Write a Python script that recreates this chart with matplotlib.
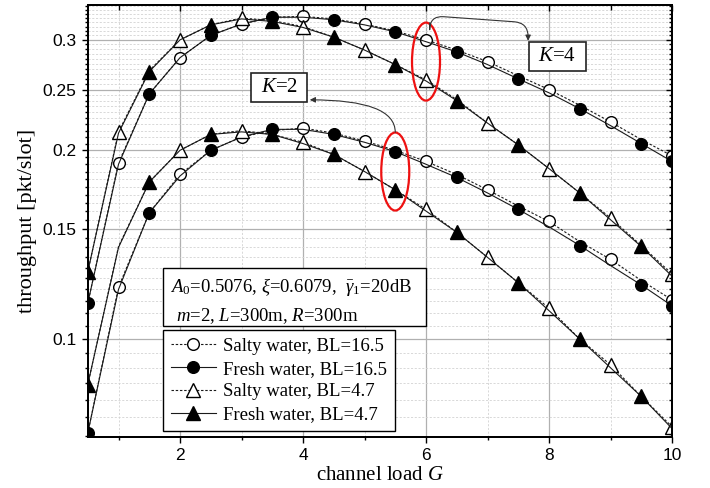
import numpy as np
import matplotlib
matplotlib.use('Agg')
import matplotlib.pyplot as plt
from matplotlib.patches import Ellipse, Rectangle
from matplotlib.ticker import FixedLocator, FuncFormatter, NullFormatter
from matplotlib.transforms import ScaledTranslation

plt.rcParams['mathtext.fontset'] = 'custom'
plt.rcParams['mathtext.rm'] = 'Liberation Serif'
plt.rcParams['mathtext.it'] = 'Liberation Serif:italic'
plt.rcParams['mathtext.bf'] = 'Liberation Serif:bold'

# ---------------- data ----------------
G = [0.5, 1.0, 1.5, 2.0, 2.5, 3.0, 3.5, 4.0, 4.5, 5.0,
     5.5, 6.0, 6.5, 7.0, 7.5, 8.0, 8.5, 9.0, 9.5, 10.0]

# K = 4
k4_salty_bl165 = [0.114, 0.191, 0.246, 0.281, 0.305, 0.318, 0.326, 0.327, 0.324, 0.318,
                  0.310, 0.300, 0.289, 0.277, 0.263, 0.250, 0.236, 0.222, 0.208, 0.196]
k4_fresh_bl165 = [0.114, 0.190, 0.246, 0.281, 0.305, 0.318, 0.326, 0.326, 0.323, 0.317,
                  0.309, 0.298, 0.287, 0.274, 0.260, 0.247, 0.233, 0.219, 0.205, 0.192]
k4_salty_bl47 = [0.128, 0.214, 0.268, 0.300, 0.317, 0.325, 0.322, 0.315, 0.303, 0.289,
                 0.274, 0.259, 0.241, 0.221, 0.204, 0.187, 0.171, 0.156, 0.141, 0.127]
k4_fresh_bl47 = [0.128, 0.213, 0.267, 0.300, 0.317, 0.324, 0.321, 0.314, 0.303, 0.289,
                 0.274, 0.258, 0.240, 0.221, 0.204, 0.187, 0.171, 0.155, 0.1405, 0.126]
# K = 2
k2_salty_bl165 = [0.0708, 0.121, 0.159, 0.183, 0.200, 0.210, 0.215, 0.217, 0.213, 0.207,
                  0.200, 0.192, 0.183, 0.173, 0.163, 0.154, 0.143, 0.134, 0.124, 0.1155]
k2_fresh_bl165 = [0.0708, 0.120, 0.159, 0.182, 0.200, 0.210, 0.216, 0.216, 0.212, 0.206,
                  0.199, 0.190, 0.181, 0.171, 0.161, 0.151, 0.141, 0.131, 0.122, 0.113]
k2_salty_bl47 = [0.0846, 0.1405, 0.178, 0.200, 0.212, 0.215, 0.212, 0.206, 0.197, 0.185,
                 0.173, 0.161, 0.148, 0.135, 0.123, 0.112, 0.100, 0.091, 0.081, 0.0725]
k2_fresh_bl47 = [0.0846, 0.140, 0.178, 0.200, 0.212, 0.214, 0.212, 0.205, 0.197, 0.185,
                 0.173, 0.160, 0.148, 0.135, 0.123, 0.111, 0.100, 0.090, 0.081, 0.072]

labels = ['Salty water, BL=16.5', 'Fresh water, BL=16.5',
          'Salty water, BL=4.7', 'Fresh water, BL=4.7']
y_major = [0.1, 0.15, 0.2, 0.25, 0.3]
x_major = [2, 4, 6, 8, 10]
x_minor = [1, 3, 5, 7, 9]

# marker index sets
int_idx = list(range(1, 20, 2))          # integer G
half_idx = list(range(0, 20, 2))         # half-integer G
half_idx_end = half_idx + [19]
int_idx_no1 = list(range(3, 20, 2))

# ---------------- figure ----------------
fig = plt.figure(figsize=(7.10, 4.88), dpi=100)
ax = fig.add_axes([0.1236, 0.1045, 0.8229, 0.8853])

serif = 'Liberation Serif'
sans = 'Liberation Sans'

dash = (0, (2.2, 1.6))
lc = '#1a1a1a'
ms_c = 8.4
ms_t = 9.4

def style(kind):
    if kind == 'so':
        return dict(ls=dash, marker='o', mfc='white', mec='black', ms=ms_c)
    if kind == 'fo':
        return dict(ls='-', marker='o', mfc='black', mec='black', ms=ms_c)
    if kind == 'st':
        return dict(ls=dash, marker='^', mfc='white', mec='black', ms=ms_t)
    return dict(ls='-', marker='^', mfc='black', mec='black', ms=ms_t)

common = dict(color=lc, lw=0.8, mew=1.0)

h1, = ax.plot(G, k4_salty_bl165, markevery=int_idx, **style('so'), **common)
h2, = ax.plot(G, k4_fresh_bl165, markevery=half_idx_end, **style('fo'), **common)
h3, = ax.plot(G, k4_salty_bl47, markevery=int_idx, **style('st'), **common)
h4, = ax.plot(G, k4_fresh_bl47, markevery=half_idx, **style('ft'), **common)
ax.plot(G, k2_salty_bl165, markevery=int_idx, **style('so'), **common)
ax.plot(G, k2_fresh_bl165, markevery=half_idx_end, **style('fo'), **common)
ax.plot(G, k2_salty_bl47, markevery=int_idx_no1, **style('st'), **common)
ax.plot(G, k2_fresh_bl47, markevery=half_idx, **style('ft'), **common)

ax.set_yscale('log')
ax.set_xlim(0.5, 10)
ax.set_ylim(0.0698, 0.341)

ax.xaxis.set_major_locator(FixedLocator(x_major))
ax.xaxis.set_minor_locator(FixedLocator(x_minor))
ax.yaxis.set_major_locator(FixedLocator(y_major))
ax.yaxis.set_minor_locator(FixedLocator([v for v in np.arange(0.07, 0.341, 0.005)
                                         if min(abs(v - m) for m in y_major) > 1e-6]))
ax.yaxis.set_major_formatter(FuncFormatter(lambda v, p: '%g' % v))
ax.yaxis.set_minor_formatter(NullFormatter())
ax.xaxis.set_major_formatter(FuncFormatter(lambda v, p: '%g' % v))

ax.grid(which='major', color='#b0b0b0', lw=0.9, ls='-', zorder=0)
ax.grid(which='minor', color='#d2d2d2', lw=0.6, ls=(0, (2.5, 2.0)), zorder=0)
ax.set_axisbelow(True)

for s in ax.spines.values():
    s.set_linewidth(1.2)
ax.tick_params(which='both', direction='out', width=1.0, labelsize=12.5, colors='black')
ax.tick_params(which='major', length=4.5)
ax.tick_params(which='minor', length=2.5)
for t in ax.get_xticklabels() + ax.get_yticklabels():
    t.set_fontfamily(sans)

# inner ticks on top / right
axt = ax.twiny()
axt.set_xlim(ax.get_xlim())
axt.xaxis.set_major_locator(FixedLocator(x_major))
axt.xaxis.set_minor_locator(FixedLocator(x_minor))
axt.tick_params(which='both', direction='in', labeltop=False, width=1.0)
axt.tick_params(which='major', length=4.5)
axt.tick_params(which='minor', length=3.5)
axr = ax.twinx()
axr.set_yscale('log')
axr.set_ylim(ax.get_ylim())
axr.yaxis.set_major_locator(FixedLocator(y_major))
axr.yaxis.set_minor_locator(ax.yaxis.get_minor_locator())
axr.yaxis.set_major_formatter(NullFormatter())
axr.yaxis.set_minor_formatter(NullFormatter())
axr.tick_params(which='both', direction='in', labelright=False, width=1.0)
axr.tick_params(which='major', length=4.5)
axr.tick_params(which='minor', length=2.5)
for a in (axt, axr):
    for s in a.spines.values():
        s.set_linewidth(1.2)

ax.set_ylabel('throughput [pkt/slot]', fontfamily=serif, fontsize=16, labelpad=4)
ax.set_xlabel('channel load $G$', fontfamily=serif, fontsize=15, labelpad=2)

# legend
leg = ax.legend([h1, h2, h3, h4], labels, loc='lower left',
                bbox_to_anchor=(0.129, 0.0146), borderaxespad=0,
                prop={'family': serif, 'size': 13.5}, frameon=True, fancybox=False,
                edgecolor='black', framealpha=1, handlelength=2.4, handletextpad=0.4,
                labelspacing=0.3, borderpad=0.4)
leg.get_frame().set_linewidth(1.0)
leg.set_zorder(10)

# parameter box
ax.add_patch(Rectangle((0.1293, 0.257), 0.4496, 0.1336, transform=ax.transAxes,
                       fc='white', ec='black', lw=1.0, zorder=9))
ax.text(0.141, 0.347, r'$A_{\mathit{0}}$=0.5076, $\xi$=0.6079,  $\bar{\gamma}_1$=20dB',
        transform=ax.transAxes, fontfamily=serif, fontsize=13.5, va='center', ha='left', zorder=11)
ax.text(0.151, 0.281, r'$m$=2, $L$=300m, $R$=300m',
        transform=ax.transAxes, fontfamily=serif, fontsize=13.5, va='center', ha='left', zorder=11)

# K boxes
ax.add_patch(Rectangle((0.2790, 0.7755), 0.0958, 0.0671, transform=ax.transAxes,
                       fc='white', ec='#222222', lw=1.2, zorder=9))
ax.text(0.3275, 0.809, '$K$=2', transform=ax.transAxes, fontfamily=serif, fontsize=15,
        ha='center', va='center', zorder=11)
ax.add_patch(Rectangle((0.7552, 0.8472), 0.0976, 0.0678, transform=ax.transAxes,
                       fc='white', ec='#222222', lw=1.2, zorder=9))
ax.text(0.8040, 0.881, '$K$=4', transform=ax.transAxes, fontfamily=serif, fontsize=15,
        ha='center', va='center', zorder=11)

# red ellipses
for (ex, ey) in [(6.0, 0.277), (5.5, 0.185)]:
    tr = fig.dpi_scale_trans + ScaledTranslation(ex, ey, ax.transData)
    ax.add_patch(Ellipse((0, 0), 0.28, 0.78, transform=tr, fill=False,
                         ec='#ee1111', lw=1.6, zorder=12, clip_on=False))

# arrows
ax.annotate('', xy=(4.11, 0.2407), xytext=(5.5, 0.2137),
            arrowprops=dict(arrowstyle='-|>', color='#333333', lw=0.8, mutation_scale=8,
                            shrinkA=0, shrinkB=0,
                            connectionstyle='angle3,angleA=90,angleB=0'), zorder=12)
ax.annotate('', xy=(7.66, 0.299), xytext=(6.06, 0.3195),
            arrowprops=dict(arrowstyle='-|>', color='#333333', lw=0.8, mutation_scale=8,
                            shrinkA=0, shrinkB=0,
                            connectionstyle='arc,angleA=90,armA=7,angleB=90,armB=18,rad=14'),
            zorder=12)

fig.savefig('out.png', dpi=100)
